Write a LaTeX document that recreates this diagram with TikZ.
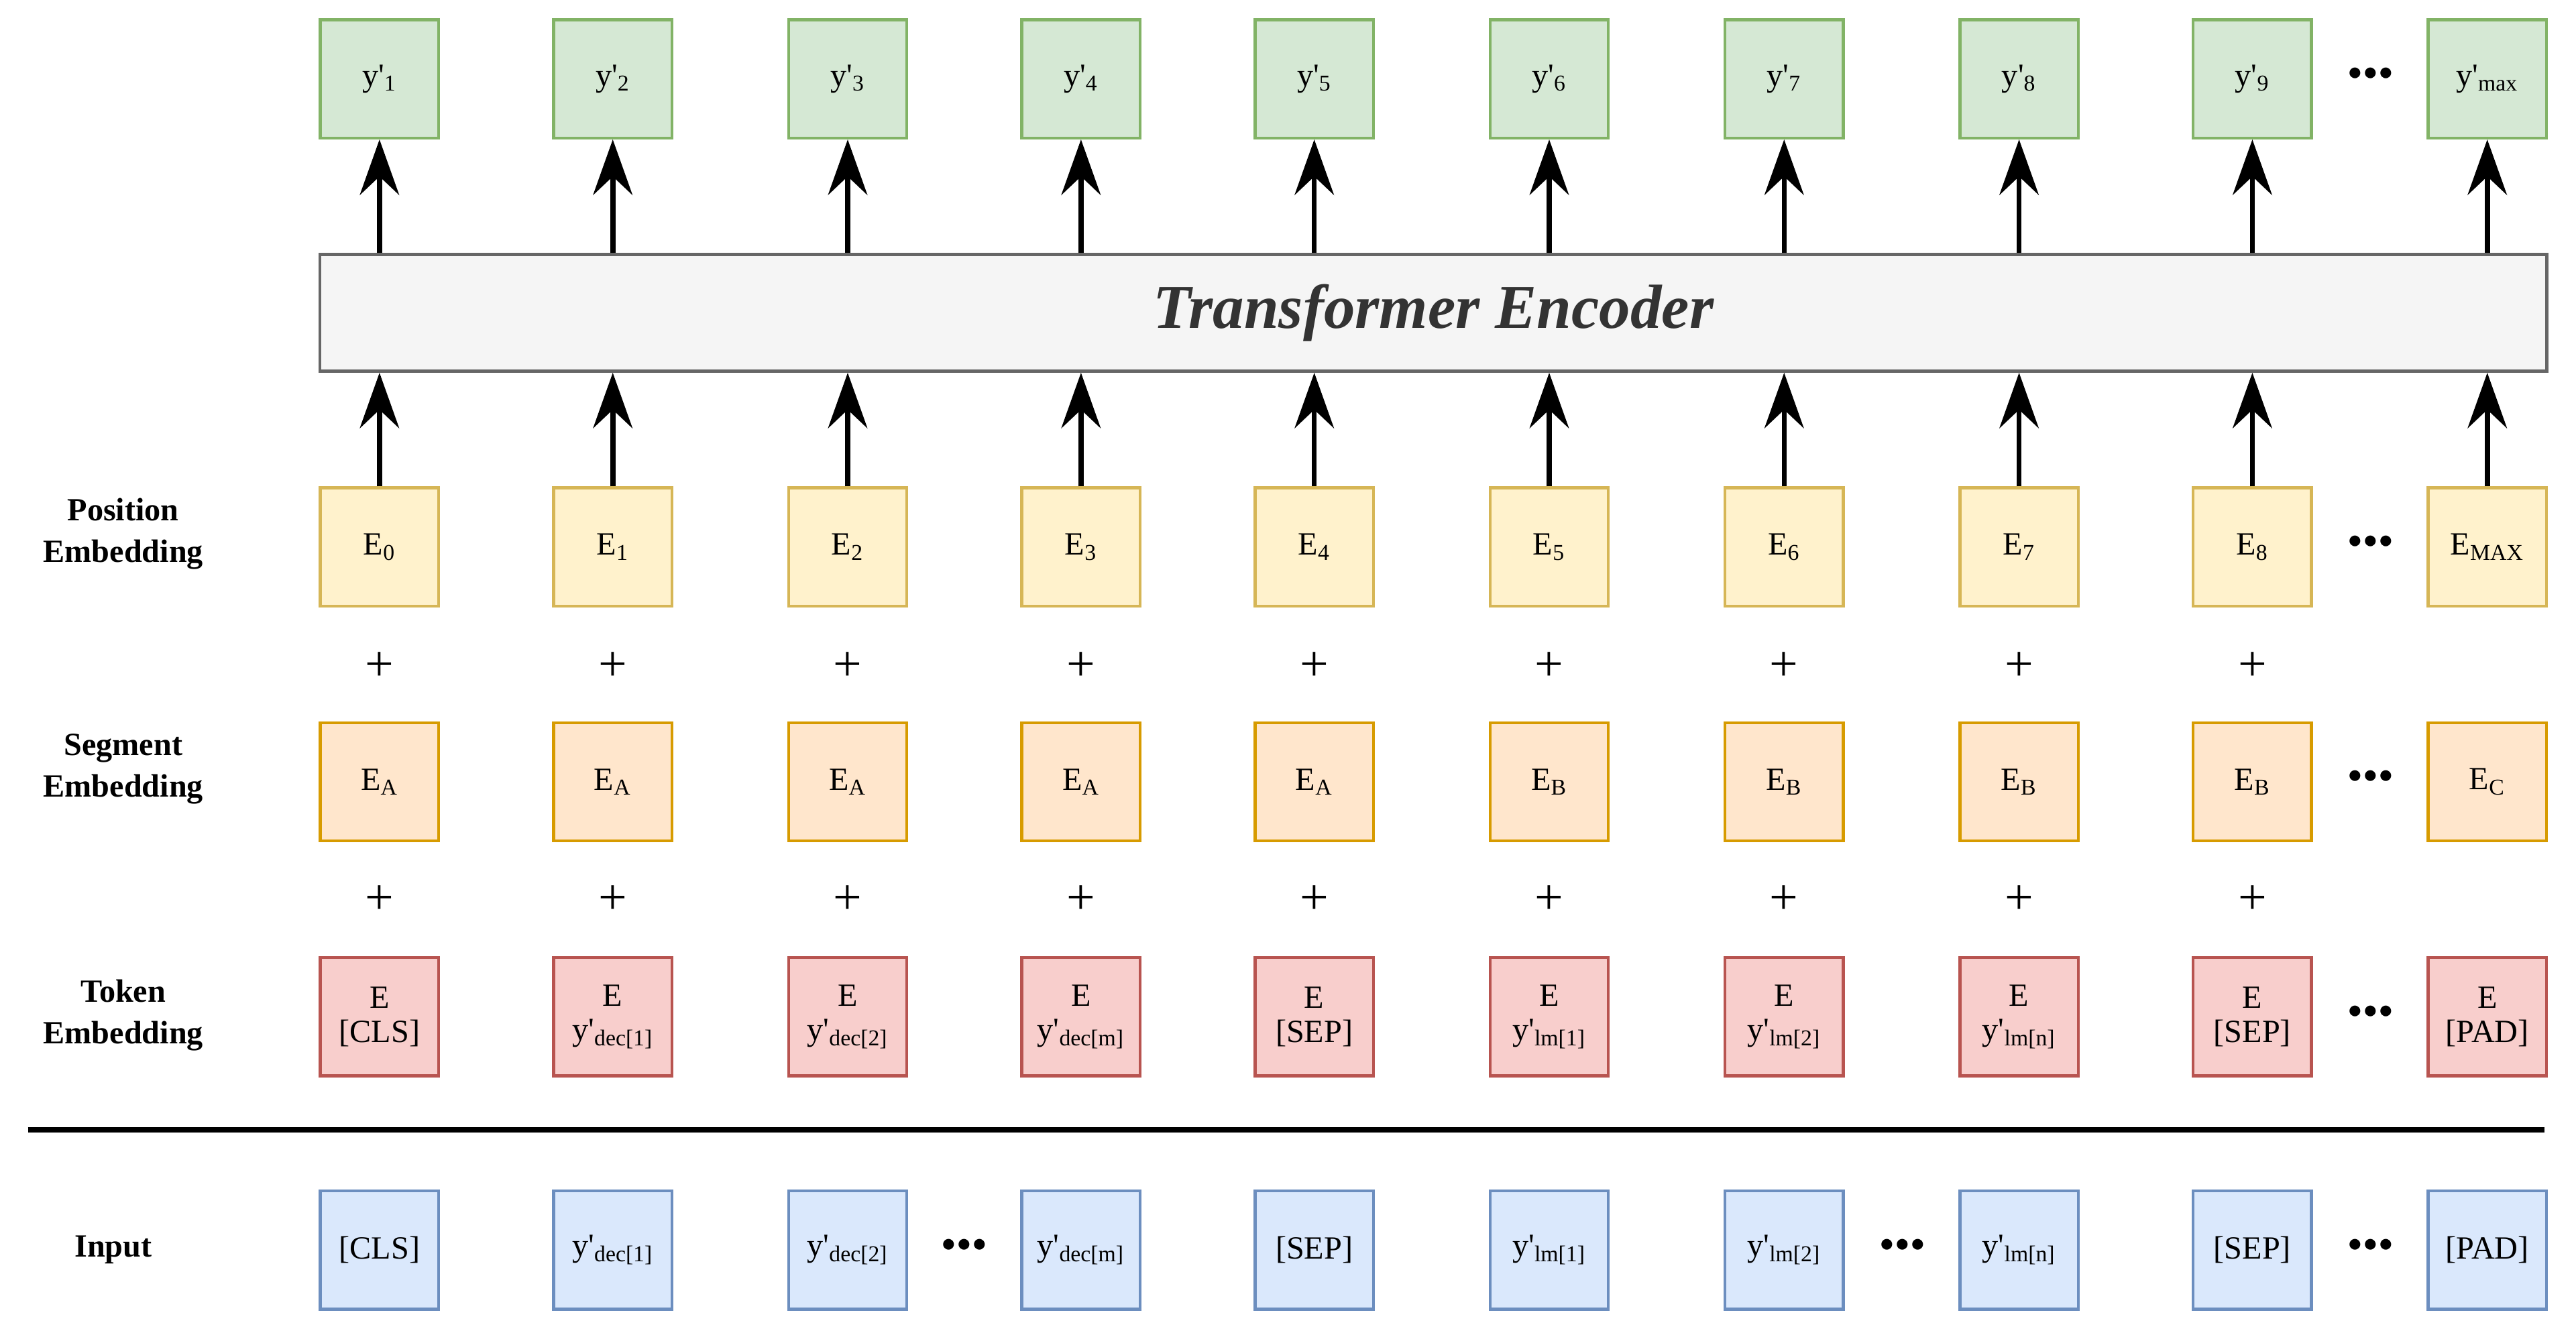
\documentclass[tikz,border=0pt]{standalone}
\usepackage{fontspec}
\setmainfont{Liberation Serif}
\usetikzlibrary{arrows.meta}

\definecolor{gfill}{HTML}{D5E8D4}\definecolor{gdraw}{HTML}{82B366}
\definecolor{yfill}{HTML}{FFF2CC}\definecolor{ydraw}{HTML}{D6B656}
\definecolor{ofill}{HTML}{FFE6CC}\definecolor{odraw}{HTML}{D79B00}
\definecolor{rfill}{HTML}{F8CECC}\definecolor{rdraw}{HTML}{B85450}
\definecolor{bfill}{HTML}{DAE8FC}\definecolor{bdraw}{HTML}{6C8EBF}
\definecolor{efill}{HTML}{F5F5F5}\definecolor{edraw}{HTML}{666666}
\newcommand{\yp}{y\textquotesingle}

\begin{document}
\begin{tikzpicture}[x=0.025cm, y=-0.025cm,
    cell/.style={draw, line width=1.3pt, minimum width=1.8cm, minimum height=1.8cm,
        inner sep=0pt, align=center, font=\fontsize{14}{15}\selectfont},
    outcell/.style={cell, fill=gfill, draw=gdraw},
    poscell/.style={cell, fill=yfill, draw=ydraw},
    segcell/.style={cell, fill=ofill, draw=odraw},
    tokcell/.style={cell, fill=rfill, draw=rdraw},
    inpcell/.style={cell, fill=bfill, draw=bdraw},
    rowlabel/.style={align=center, font=\bfseries\fontsize{14}{18}\selectfont},
    plus/.style={font=\fontsize{22}{22}\selectfont},
    dots/.style={font=\fontsize{12}{12}\selectfont},
    up/.style={-{Stealth[length=24pt,width=17pt,inset=8pt]}, line width=2.2pt}]
    \useasboundingbox (0,0) rectangle (1568,810);

    % encoder
    \node[draw=edraw, fill=efill, line width=1.3pt, minimum width=33.875cm,
        minimum height=1.775cm, font=\bfseries\itshape\fontsize{27}{27}\selectfont,
        text=black!80] (enc) at (872.5,190.5) {Transformer Encoder};

    % columns
    \foreach \i/\x/\o/\p/\s/\t in {
        1/231/1/0/A/{E\\{}[CLS]},
        2/373/2/1/A/{E\\\yp\textsubscript{dec[1]}},
        3/516/3/2/A/{E\\\yp\textsubscript{dec[2]}},
        4/658/4/3/A/{E\\\yp\textsubscript{dec[m]}},
        5/800/5/4/A/{E\\{}[SEP]},
        6/943/6/5/B/{E\\\yp\textsubscript{lm[1]}},
        7/1086/7/6/B/{E\\\yp\textsubscript{lm[2]}},
        8/1229/8/7/B/{E\\\yp\textsubscript{lm[n]}},
        9/1371/9/8/B/{E\\{}[SEP]},
        10/1514/max/MAX/C/{E\\{}[PAD]}} {
        \node[outcell] (out\i) at (\x,48) {\yp\textsubscript{\o}};
        \node[poscell] (pos\i) at (\x,333) {E\textsubscript{\p}};
        \node[segcell] (seg\i) at (\x,476) {E\textsubscript{\s}};
        \node[tokcell] (tok\i) at (\x,619) {\t};
        \draw[up] (pos\i) -- (pos\i |- enc.south);
        \draw[up] (out\i |- enc.north) -- (out\i);
    }
    \foreach \i in {1,...,9} {
        \node[plus] (plusa\i) at (pos\i |- 0,406) {+};
        \node[plus] (plusb\i) at (pos\i |- 0,548) {+};
    }

    % input row
    \foreach \n/\x/\t in {1/231/{{}[CLS]}, 2/373/{\yp\textsubscript{dec[1]}},
        3/516/{\yp\textsubscript{dec[2]}}, 4/658/{\yp\textsubscript{dec[m]}},
        5/800/{{}[SEP]}, 6/943/{\yp\textsubscript{lm[1]}}, 7/1086/{\yp\textsubscript{lm[2]}},
        8/1229/{\yp\textsubscript{lm[n]}}, 9/1371/{{}[SEP]}, 10/1514/{{}[PAD]}}
        \node[inpcell] (inp\n) at (\x,761) {\t};

    % dots
    \foreach \n/\x/\y in {a/1443/48, b/1443/333, c/1443/476, d/1443/619,
        e/587/761, f/1158/761, g/1443/761}
        \node[dots] (dots\n) at (\x,\y-3) {$\bullet\!\bullet\!\bullet$};

    % labels and rule
    \node[rowlabel] (lpos) at (75,325) {Position\\Embedding};
    \node[rowlabel] (lseg) at (75,468) {Segment\\Embedding};
    \node[rowlabel] (ltok) at (75,618) {Token\\Embedding};
    \node[rowlabel] (linp) at (69,761) {Input};
    \coordinate (ruleL) at (17,688);
    \coordinate (ruleR) at (1549,688);
    \draw[line width=2.4pt] (ruleL) -- (ruleR);
\end{tikzpicture}
\end{document}
